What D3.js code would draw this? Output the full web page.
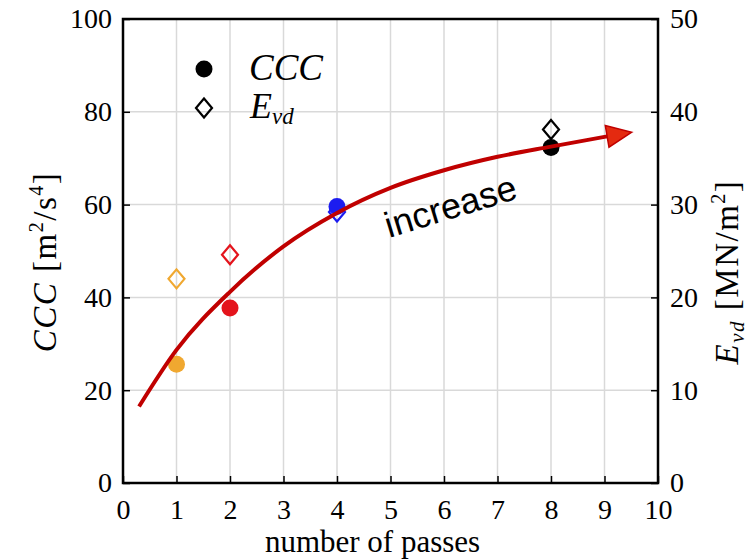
<!DOCTYPE html>
<html><head><meta charset="utf-8">
<script src="https://cdn.jsdelivr.net/npm/d3@7"></script>
<style>body{margin:0;background:#fff}</style>
</head><body>
<svg id="c" width="756" height="560"></svg>
<script>
const passes = [1, 2, 4, 8];
const cccValues = [25.6, 37.7, 59.6, 72.3];
const evdValues = [22.0, 24.6, 29.2, 38.1];
const pointColors = ["#f0a830", "#e4141c", "#1c1cf0", "#000000"];
const xTicks = [0,1,2,3,4,5,6,7,8,9,10];
const yLeftTicks = [0,20,40,60,80,100];
const yRightTicks = [0,10,20,30,40,50];
const trendX = [0.3, 1, 2, 3, 4, 5, 6, 7, 8, 9.05];
const trendY = [16.5, 28.7, 41.2, 51, 58.2, 63.6, 67.4, 70.3, 72.5, 74.7];
const arrowTip = [9.51, 75.6];

const svg = d3.select("#c");
const L = 123, R = 658, T = 19, B = 483;
const x = d3.scaleLinear().domain([0,10]).range([L,R]);
const y = d3.scaleLinear().domain([0,100]).range([B,T]);
const y2 = d3.scaleLinear().domain([0,50]).range([B,T]);
const serif = "'Liberation Serif','DejaVu Serif',serif";

// grid
svg.append("g").selectAll("line").data(xTicks.slice(1,-1)).join("line")
  .attr("x1", d=>x(d)).attr("x2", d=>x(d)).attr("y1", T).attr("y2", B)
  .attr("stroke", "#d9d9d9").attr("stroke-width", 1.5);
svg.append("g").selectAll("line").data(yLeftTicks.slice(1,-1)).join("line")
  .attr("y1", d=>y(d)).attr("y2", d=>y(d)).attr("x1", L).attr("x2", R)
  .attr("stroke", "#d9d9d9").attr("stroke-width", 1.5);

// axes
function styleAxis(g){
  g.select(".domain").remove();
  g.selectAll("line").attr("stroke","#000").attr("stroke-width",1.5);
  g.selectAll("text").attr("font-family", serif).attr("font-size", 28).attr("fill","#000");
}
svg.append("g").attr("transform",`translate(0,${B})`)
  .call(d3.axisBottom(x).tickValues(xTicks).tickFormat(d3.format("d")).tickSizeInner(-7).tickSizeOuter(0).tickPadding(16))
  .call(styleAxis);
svg.append("g").attr("transform",`translate(${L},0)`)
  .call(d3.axisLeft(y).tickValues(yLeftTicks).tickFormat(d3.format("d")).tickSizeInner(-7).tickSizeOuter(0).tickPadding(11))
  .call(styleAxis);
svg.append("g").attr("transform",`translate(${R},0)`)
  .call(d3.axisRight(y2).tickValues(yRightTicks).tickFormat(d3.format("d")).tickSizeInner(-7).tickSizeOuter(0).tickPadding(12))
  .call(styleAxis);
svg.append("rect").attr("x",L).attr("y",T).attr("width",R-L).attr("height",B-T)
  .attr("fill","none").attr("stroke","#000").attr("stroke-width",2.5);

// axis labels
svg.append("text").attr("x",(L+R)/2 - 18).attr("y",552).attr("text-anchor","middle")
  .attr("font-family",serif).attr("font-size",31).text("number of passes");
const yl = svg.append("text").attr("transform",`translate(56,262) rotate(-90)`)
  .attr("text-anchor","middle").attr("font-family",serif).attr("font-size",33).attr("letter-spacing",1.5);
yl.append("tspan").attr("font-style","italic").text("CCC");
yl.append("tspan").text(" [m");
yl.append("tspan").attr("font-size",20).attr("dy",-13).text("2");
yl.append("tspan").attr("dy",13).text("/s");
yl.append("tspan").attr("font-size",20).attr("dy",-13).text("4");
yl.append("tspan").attr("dy",13).text("]");
const yr = svg.append("text").attr("transform",`translate(738,272) rotate(-90)`)
  .attr("text-anchor","middle").attr("font-family",serif).attr("font-size",33).attr("letter-spacing",1.5);
yr.append("tspan").attr("font-style","italic").text("E");
yr.append("tspan").attr("font-style","italic").attr("font-size",21).attr("dy",6).text("vd");
yr.append("tspan").attr("dy",-6).text(" [MN/m");
yr.append("tspan").attr("font-size",20).attr("dy",-13).text("2");
yr.append("tspan").attr("dy",13).text("]");

// points
const pts = passes.map((p,i)=>({p, c:cccValues[i], e:evdValues[i], col:pointColors[i]}));
const dw = 8, dh = 9.5;
const diamondPath = `M0,${-dh}L${dw},0L0,${dh}L${-dw},0Z`;
svg.append("g").selectAll("path").data(pts).join("path")
  .attr("d", diamondPath).attr("transform", d=>`translate(${x(d.p)},${y2(d.e)})`)
  .attr("fill","none").attr("stroke", d=>d.col).attr("stroke-width",2.2);
svg.append("g").selectAll("circle").data(pts).join("circle")
  .attr("cx", d=>x(d.p)).attr("cy", d=>y(d.c)).attr("r", 8.5).attr("fill", d=>d.col);

// legend
svg.append("circle").attr("cx",204).attr("cy",69).attr("r",8.5).attr("fill","#000");
svg.append("path").attr("d", diamondPath).attr("transform","translate(204,108)")
  .attr("fill","none").attr("stroke","#000").attr("stroke-width",2.2);
svg.append("text").attr("x",249).attr("y",80).attr("font-family",serif).attr("font-style","italic")
  .attr("font-size",37).text("CCC");
const le = svg.append("text").attr("x",250).attr("y",118).attr("font-family",serif).attr("font-style","italic").attr("font-size",36);
le.append("tspan").text("E");
le.append("tspan").attr("font-size",23).attr("dy",6).text("vd");

// trend arrow
const line = d3.line().x(d=>x(d[0])).y(d=>y(d[1])).curve(d3.curveMonotoneX);
svg.append("path").datum(trendX.map((v,i)=>[v,trendY[i]])).attr("d", line)
  .attr("fill","none").attr("stroke","#c00000").attr("stroke-width",4);
{
  const tx = x(arrowTip[0]), ty = y(arrowTip[1]);
  const bx = x(trendX[trendX.length-1]), by = y(trendY[trendY.length-1]);
  const ang = Math.atan2(ty-by, tx-bx);
  const len = 25, hw = 11;
  const cx = tx - len*Math.cos(ang), cy = ty - len*Math.sin(ang);
  const px = -Math.sin(ang)*hw, py = Math.cos(ang)*hw;
  svg.append("path").attr("d", `M${tx},${ty}L${cx+px},${cy+py}L${cx-px},${cy-py}Z`)
    .attr("fill","#e42a10").attr("stroke","#c00000").attr("stroke-width",1.5);
}
svg.append("text").attr("transform","translate(389,238) rotate(-17)")
  .attr("font-family","'Liberation Sans',Arial,sans-serif").attr("font-size",36).text("increase");
</script>
</body></html>
